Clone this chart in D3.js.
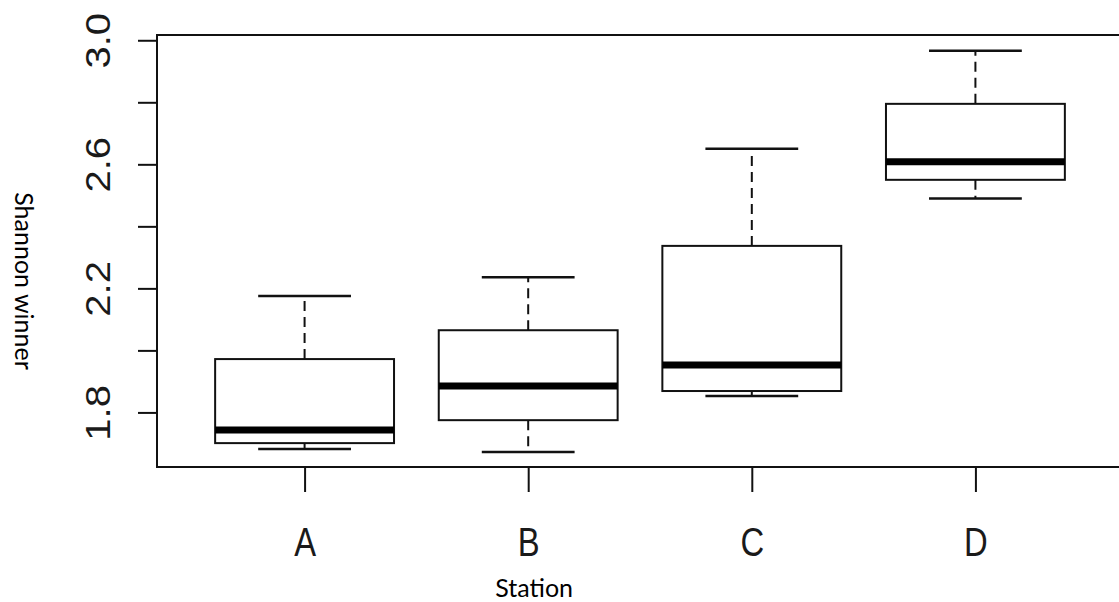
<!DOCTYPE html>
<html>
<head>
<meta charset="utf-8">
<script src="https://cdn.jsdelivr.net/npm/d3@7"></script>
<style>
  body { margin: 0; background: #fff; }
</style>
</head>
<body>
<div id="chart"></div>
<script>
// boxplot stats per station
const stations = ["A", "B", "C", "D"];
const whiskerLow = [1.682, 1.672, 1.853, 2.49];
const q1 = [1.701, 1.775, 1.869, 2.55];
const median = [1.743, 1.885, 1.953, 2.608];
const q3 = [1.972, 2.065, 2.337, 2.795];
const whiskerHigh = [2.175, 2.236, 2.65, 2.966];

const yTicks = [1.8, 2.0, 2.2, 2.4, 2.6, 2.8, 3.0];
const yTickLabels = ["1.8", "", "2.2", "", "2.6", "", "3.0"];

const xTitle = "Station";
const yTitle = "Shannon winner";

var margin = { top: 35, right: -4, bottom: 135, left: 157 };
var width = 1119 - margin.left - margin.right;
var height = 602 - margin.top - margin.bottom;

var svg = d3.select("#chart").append("svg")
    .attr("width", 1119)
    .attr("height", 602)
    .style("display", "block")
    .append("g")
    .attr("transform", "translate(" + margin.left + "," + margin.top + ")");

const x = d3.scalePoint()
    .domain(stations)
    .range([0, width])
    .padding(0.66);

const y = d3.scaleLinear()
    .domain([1.624, 3.017])
    .range([height, 0]);

const boxW = x.step() * 0.8;
const capW = x.step() * 0.415;

// axes
const xAxis = svg.append("g")
    .attr("transform", `translate(0,${height})`)
    .call(d3.axisBottom(x).tickSize(25).tickPadding(0));
xAxis.select(".domain").remove();
xAxis.selectAll("line").attr("stroke", "#111").attr("stroke-width", 2);
xAxis.selectAll("text")
    .attr("y", 0)
    .attr("dy", 0)
    .attr("transform", "translate(0,89) scale(0.82,1)")
    .attr("fill", "#1a1a1a")
    .style("font", "40px 'Liberation Sans', Arial, sans-serif");

const yAxis = svg.append("g")
    .call(d3.axisLeft(y).tickValues(yTicks).tickSize(19)
        .tickFormat((d, i) => yTickLabels[i]));
yAxis.select(".domain").remove();
yAxis.selectAll("line").attr("stroke", "#111").attr("stroke-width", 2);
yAxis.selectAll("text")
    .attr("x", 0)
    .attr("y", -55)
    .attr("dy", 0)
    .attr("text-anchor", "middle")
    .attr("transform", "rotate(-90) scale(1,0.86)")
    .attr("fill", "#1a1a1a")
    .style("font", "40px 'Liberation Sans', Arial, sans-serif");

// frame
svg.append("rect")
    .attr("x", 0)
    .attr("y", 0)
    .attr("width", width)
    .attr("height", height)
    .attr("fill", "none")
    .attr("stroke", "#111")
    .attr("stroke-width", 2);

// boxes
const g = svg.selectAll(".box")
    .data(stations)
    .enter()
    .append("g")
    .attr("class", "box");

// whiskers (dashed)
g.append("line")
    .attr("x1", d => x(d)).attr("x2", d => x(d))
    .attr("y1", (d, i) => y(q3[i])).attr("y2", (d, i) => y(whiskerHigh[i]))
    .attr("stroke", "#111").attr("stroke-width", 2)
    .attr("stroke-dasharray", "10,6");
g.append("line")
    .attr("x1", d => x(d)).attr("x2", d => x(d))
    .attr("y1", (d, i) => y(q1[i])).attr("y2", (d, i) => y(whiskerLow[i]))
    .attr("stroke", "#111").attr("stroke-width", 2)
    .attr("stroke-dasharray", "10,6");

// staples
g.append("line")
    .attr("x1", d => x(d) - capW / 2).attr("x2", d => x(d) + capW / 2)
    .attr("y1", (d, i) => y(whiskerHigh[i])).attr("y2", (d, i) => y(whiskerHigh[i]))
    .attr("stroke", "#111").attr("stroke-width", 2.5);
g.append("line")
    .attr("x1", d => x(d) - capW / 2).attr("x2", d => x(d) + capW / 2)
    .attr("y1", (d, i) => y(whiskerLow[i])).attr("y2", (d, i) => y(whiskerLow[i]))
    .attr("stroke", "#111").attr("stroke-width", 2.5);

g.append("rect")
    .attr("x", d => x(d) - boxW / 2)
    .attr("y", (d, i) => y(q3[i]))
    .attr("width", boxW)
    .attr("height", (d, i) => y(q1[i]) - y(q3[i]))
    .attr("fill", "#fff")
    .attr("stroke", "#111")
    .attr("stroke-width", 2);

g.append("line")
    .attr("x1", d => x(d) - boxW / 2).attr("x2", d => x(d) + boxW / 2)
    .attr("y1", (d, i) => y(median[i])).attr("y2", (d, i) => y(median[i]))
    .attr("stroke", "#000").attr("stroke-width", 7);

// titles
svg.append("text")
    .attr("x", x("B") + 6)
    .attr("y", height + 130)
    .attr("text-anchor", "middle")
    .attr("fill", "#000")
    .style("font", "25px Lato, 'Open Sans', sans-serif")
    .text(xTitle);

svg.append("text")
    .attr("transform", `translate(${15 - margin.left},${281 - margin.top}) rotate(90)`)
    .attr("text-anchor", "middle")
    .attr("fill", "#000")
    .style("font", "25px Lato, 'Open Sans', sans-serif")
    .text(yTitle);
</script>
</body>
</html>
